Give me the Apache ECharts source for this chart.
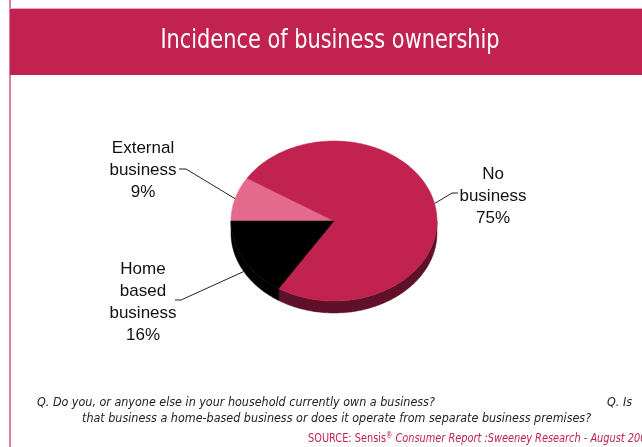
<!DOCTYPE html>
<html>
<head>
<meta charset="utf-8">
<script src="https://cdn.jsdelivr.net/npm/echarts@6/dist/echarts.min.js"></script>
<style>
  html, body { margin: 0; padding: 0; background: #fff; }
  #chart { width: 642px; height: 447px; }
</style>
</head>
<body>
<div id="chart"></div>
<script>
// Slices in clockwise order, starting from the left (9 o'clock)
const categories = ['External business', 'No business', 'Home based business'];
const labelNames = ['External\nbusiness', 'No\nbusiness', 'Home\nbased\nbusiness'];
const shares = [9, 75, 16];

const titleText = 'Incidence of business ownership';
const questionLine1 = 'Q. Do you, or anyone else in your household currently own a business?';
const questionTail = 'Q. Is';
const questionLine2 = 'that business a home-based business or does it operate from separate business premises?';

// Drawing styles and layout
const topColors = ['#E36A8C', '#C1224F', '#000000'];
const sideColors = ['#A8355A', '#5E1128', '#000000'];
const labelAnchors = [[143, 170], [493, 196], [143, 302]];
const leaderBends = [[[186, 169], [179, 169]], [[452, 193], [458, 193]], [[181, 300], [175, 300]]];
const pie = { cx: 334, cy: 221, rx: 103, ry: 80, depth: 12, start: 180 };
const narrowFont = '"Liberation Sans Narrow", "DejaVu Sans Condensed", sans-serif';

const total = shares.reduce((a, b) => a + b, 0);
const cumulative = [];
shares.reduce((acc, v, i) => { cumulative[i] = acc; return acc + v; }, 0);

function pt(deg, dy) {
  const r = deg * Math.PI / 180;
  return [pie.cx + pie.rx * Math.cos(r), pie.cy - pie.ry * Math.sin(r) + (dy || 0)];
}

function arcPoints(from, to, dy) {
  const pts = [];
  const n = Math.max(2, Math.ceil(Math.abs(to - from)));
  for (let k = 0; k <= n; k++) pts.push(pt(from + (to - from) * k / n, dy));
  return pts;
}

function renderItem(params, api) {
  const i = params.dataIndex;
  const value = api.value(0);
  const a0 = pie.start - 360 * cumulative[i] / total;
  const a1 = a0 - 360 * value / total;
  const children = [];

  // side wall: portions of the arc lying in the lower half of the ellipse
  for (let k = -2; k <= 1; k++) {
    const lo = Math.max(a1, 180 + 360 * k);
    const hi = Math.min(a0, 360 + 360 * k);
    if (hi - lo > 0.01) {
      const upper = arcPoints(lo, hi, 0);
      const lower = arcPoints(hi, lo, pie.depth);
      children.push({
        type: 'polygon', z2: 1,
        shape: { points: upper.concat(lower) },
        style: { fill: sideColors[i], stroke: sideColors[i], lineWidth: 0.5 }
      });
    }
  }

  // top face
  children.push({
    type: 'polygon', z2: 5,
    shape: { points: [[pie.cx, pie.cy]].concat(arcPoints(a0, a1, 0)) },
    style: { fill: topColors[i], stroke: topColors[i], lineWidth: 0.5 }
  });

  // leader line from slice edge to label
  const mid = (a0 + a1) / 2;
  const lowerHalf = Math.sin(mid * Math.PI / 180) < 0;
  const edge = pt(mid, lowerHalf ? pie.depth : 0);
  children.push({
    type: 'polyline', z2: 6,
    shape: { points: [edge].concat(leaderBends[i]) },
    style: { stroke: '#222', lineWidth: 1, fill: null }
  });

  // label
  children.push({
    type: 'text', z2: 7,
    x: labelAnchors[i][0], y: labelAnchors[i][1],
    style: {
      text: labelNames[i] + '\n' + value + '%',
      fill: '#111',
      font: '17px "Liberation Sans", Arial, sans-serif',
      lineHeight: 22,
      align: 'center',
      verticalAlign: 'middle'
    }
  });

  return { type: 'group', children: children };
}

const chart = echarts.init(document.getElementById('chart'), null, { renderer: 'canvas' });
chart.setOption({
  backgroundColor: '#ffffff',
  animation: false,
  graphic: [
    { type: 'rect', shape: { x: 9, y: 0, width: 2, height: 447 }, style: { fill: '#E27A9B' } },
    { type: 'rect', shape: { x: 9, y: 8, width: 633, height: 1 }, style: { fill: '#EBA9BC' } },
    { type: 'rect', shape: { x: 10, y: 9, width: 632, height: 66 }, style: { fill: '#C1224F' } },
    {
      type: 'text', x: 330, y: 41, scaleX: 0.86,
      style: {
        text: titleText, fill: '#ffffff',
        font: '27px ' + narrowFont,
        align: 'center', verticalAlign: 'middle'
      }
    },
    {
      type: 'text', x: 37, y: 403, scaleX: 0.955,
      style: {
        text: questionLine1, fill: '#222',
        font: 'italic 13px ' + narrowFont,
        align: 'left', verticalAlign: 'middle'
      }
    },
    {
      type: 'text', x: 632, y: 403, scaleX: 0.955,
      style: {
        text: questionTail, fill: '#222',
        font: 'italic 13px ' + narrowFont,
        align: 'right', verticalAlign: 'middle'
      }
    },
    {
      type: 'text', x: 82, y: 419, scaleX: 0.955,
      style: {
        text: questionLine2, fill: '#222',
        font: 'italic 13px ' + narrowFont,
        align: 'left', verticalAlign: 'middle'
      }
    },
    {
      type: 'text', x: 308, y: 439, scaleX: 0.87,
      style: {
        text: '{a|SOURCE: Sensis}{s|®}{b| Consumer Report :Sweeney Research - August 2005}',
        verticalAlign: 'middle',
        rich: {
          a: { fill: '#C1224F', font: '12.5px ' + narrowFont },
          s: { fill: '#C1224F', font: '8px ' + narrowFont, verticalAlign: 'top', padding: [0, 0, 6, 0] },
          b: { fill: '#C1224F', font: 'italic 12.5px ' + narrowFont }
        }
      }
    }
  ],
  series: [{
    type: 'custom',
    name: 'Business ownership',
    coordinateSystem: 'none',
    renderItem: renderItem,
    data: shares.map((v, i) => ({ name: categories[i], value: [v] }))
  }]
});
</script>
</body>
</html>
